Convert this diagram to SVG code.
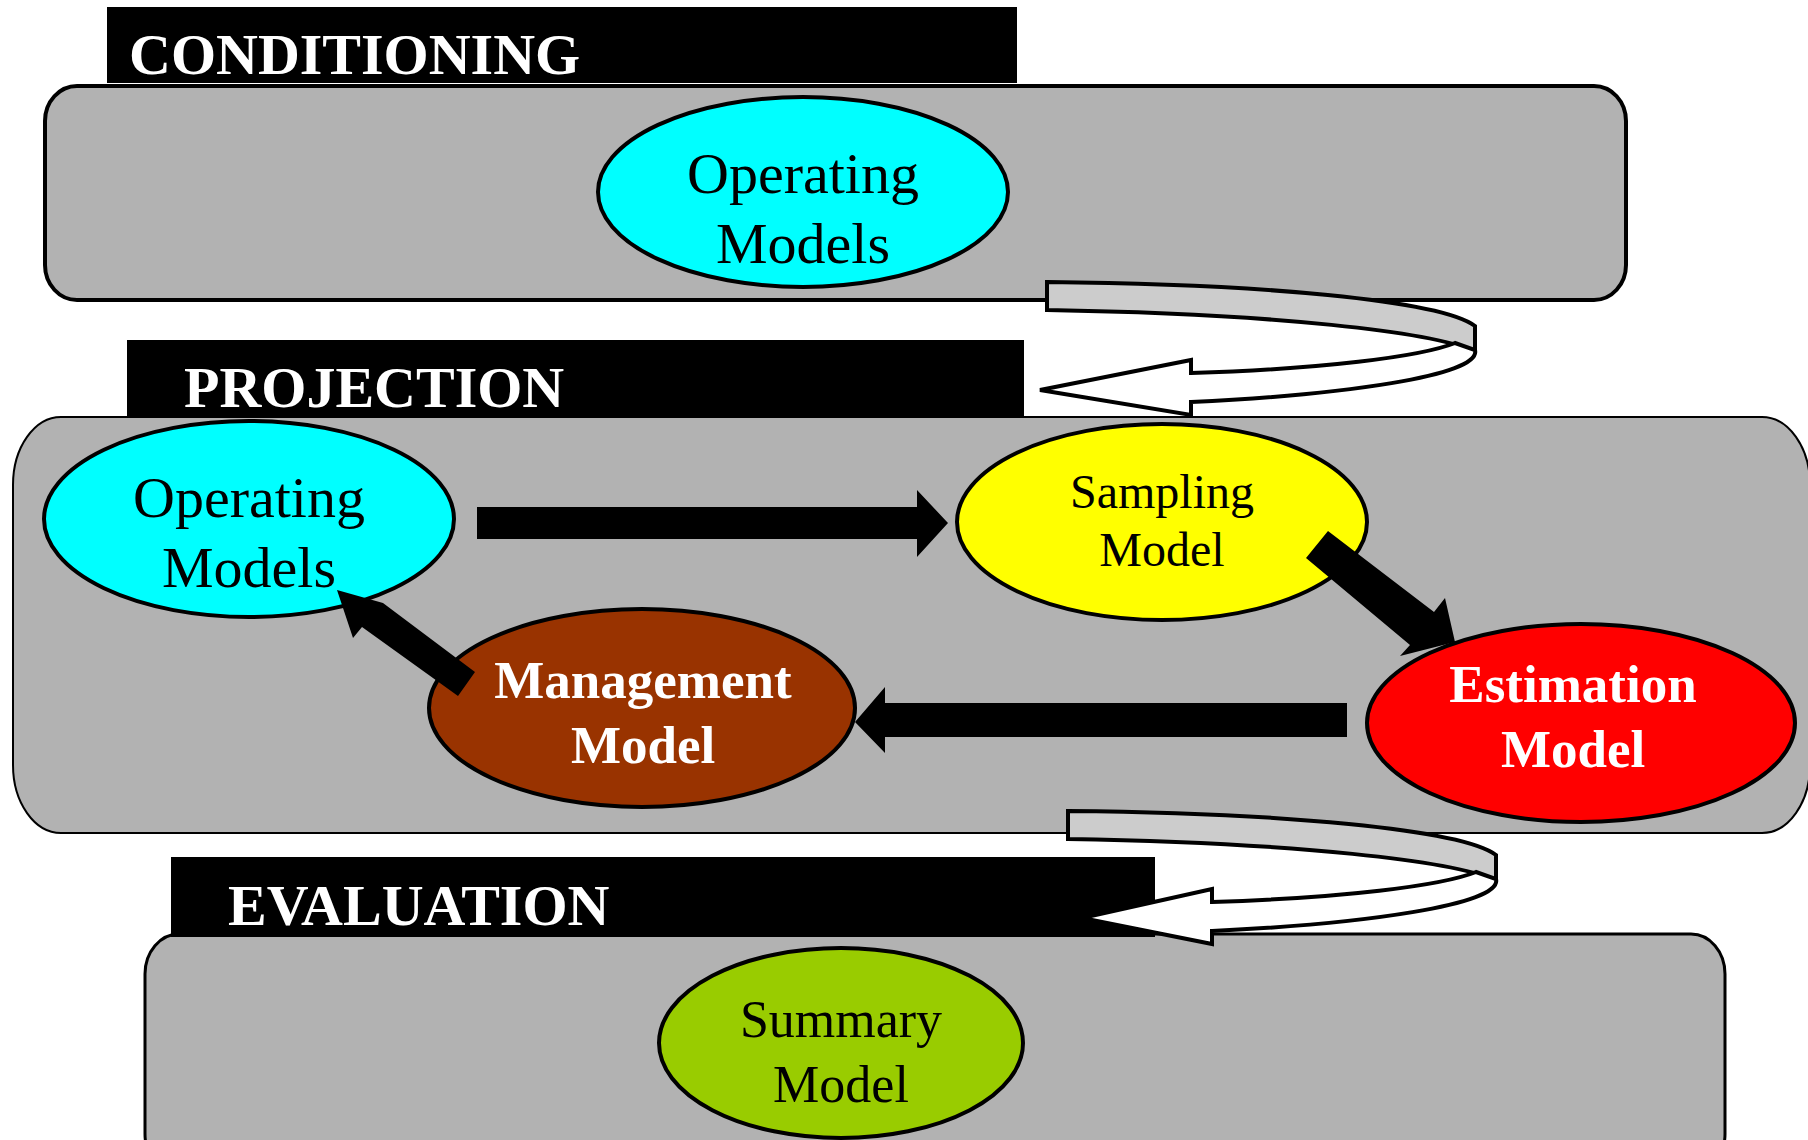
<svg xmlns="http://www.w3.org/2000/svg" xmlns:xlink="http://www.w3.org/1999/xlink" width="1808" height="1140" viewBox="0 0 1808 1140">
<style>
.box{fill:#b2b2b2;stroke:#000}
.bar{fill:#000}
.title{font-family:"Liberation Serif","Times New Roman",serif;font-weight:bold;font-size:58px;fill:#fff}
.node{stroke:#000;stroke-width:4}
.t{font-family:"Liberation Serif","Times New Roman",serif;text-anchor:middle}
.reg{font-size:58px;fill:#000}
.bw{font-weight:bold;font-size:53px;fill:#fff}
.arr{fill:#000}
.band{fill:#cccccc;stroke:#000;stroke-width:4}
.front{fill:#fff;stroke:#000;stroke-width:4}
</style>
<defs>
<path id="band" class="band" d="M1047,282 C1260,284 1440,300 1475,326 L1475,351 C1430,332 1280,314 1047,310 Z"/>
</defs>
<rect width="1808" height="1140" fill="#fff"/>

<g id="conditioning">
<rect class="bar" x="107" y="7" width="910" height="76"/>
<text class="title" x="129" y="74">CONDITIONING</text>
<rect class="box" x="45" y="86" width="1581" height="214" rx="32" ry="35" stroke-width="4"/>
</g>
<g id="node-operating-1">
<ellipse class="node" cx="803" cy="192" rx="205" ry="95" fill="#00ffff"/>
<text class="t reg" x="803" y="193">Operating</text>
<text class="t reg" x="803" y="263">Models</text>
</g>

<g id="projection">
<rect class="bar" x="127" y="340" width="897" height="77"/>
<text class="title" x="184" y="407">PROJECTION</text>
<rect class="box" x="13" y="417" width="1797" height="416" rx="48" ry="68" stroke-width="2"/>
</g>

<g id="evaluation">
<rect class="box" x="145" y="934" width="1580" height="240" rx="34" ry="40" stroke-width="3"/>
<rect class="bar" x="171" y="857" width="984" height="80"/>
<text class="title" x="228" y="925">EVALUATION</text>
</g>

<g id="node-operating-2">
<ellipse class="node" cx="249" cy="519" rx="205" ry="98" fill="#00ffff"/>
<text class="t reg" x="249" y="517">Operating</text>
<text class="t reg" x="249" y="587">Models</text>
</g>
<g id="node-sampling">
<ellipse class="node" cx="1162" cy="522" rx="205" ry="98" fill="#ffff00" stroke-width="3"/>
<text class="t" x="1162" y="508" font-size="48">Sampling</text>
<text class="t" x="1162" y="566" font-size="48">Model</text>
</g>
<g id="node-estimation">
<ellipse class="node" cx="1581" cy="723" rx="214" ry="99" fill="#ff0000"/>
<text class="t bw" x="1573" y="702">Estimation</text>
<text class="t bw" x="1573" y="767">Model</text>
</g>
<g id="node-management">
<ellipse class="node" cx="642" cy="708" rx="213" ry="99" fill="#993300"/>
<text class="t bw" x="643" y="698">Management</text>
<text class="t bw" x="643" y="763">Model</text>
</g>
<g id="node-summary">
<ellipse class="node" cx="841" cy="1043" rx="182" ry="95" fill="#99cc00"/>
<text class="t" x="841" y="1037" font-size="52">Summary</text>
<text class="t" x="841" y="1102" font-size="52">Model</text>
</g>

<g id="connectors">
<polygon class="arr" points="477,507 917,507 917,490 948,523 917,557 917,539 477,539"/>
<polygon class="arr" points="1328,531 1434,612 1445,598 1455,642 1400,656 1410,645 1306,558"/>
<polygon class="arr" points="1347,703 885,703 885,687 855,722 885,753 885,737 1347,737"/>
<polygon class="arr" points="475,672 383,603 337,590 353,638 362,627 458,696"/>
<use xlink:href="#band"/>
<path class="front" d="M1455,343 L1475,350 C1482,376 1340,395 1191,402 L1191,415 L1040,390 L1191,360 L1191,373 C1320,369 1420,357 1455,343 Z"/>
<use xlink:href="#band" transform="translate(21,529)"/>
<path class="front" d="M1476,872 L1496,879 C1503,905 1361,924 1212,931 L1212,944 L1082,918 L1212,889 L1212,902 C1341,898 1441,886 1476,872 Z"/>
</g>
</svg>
